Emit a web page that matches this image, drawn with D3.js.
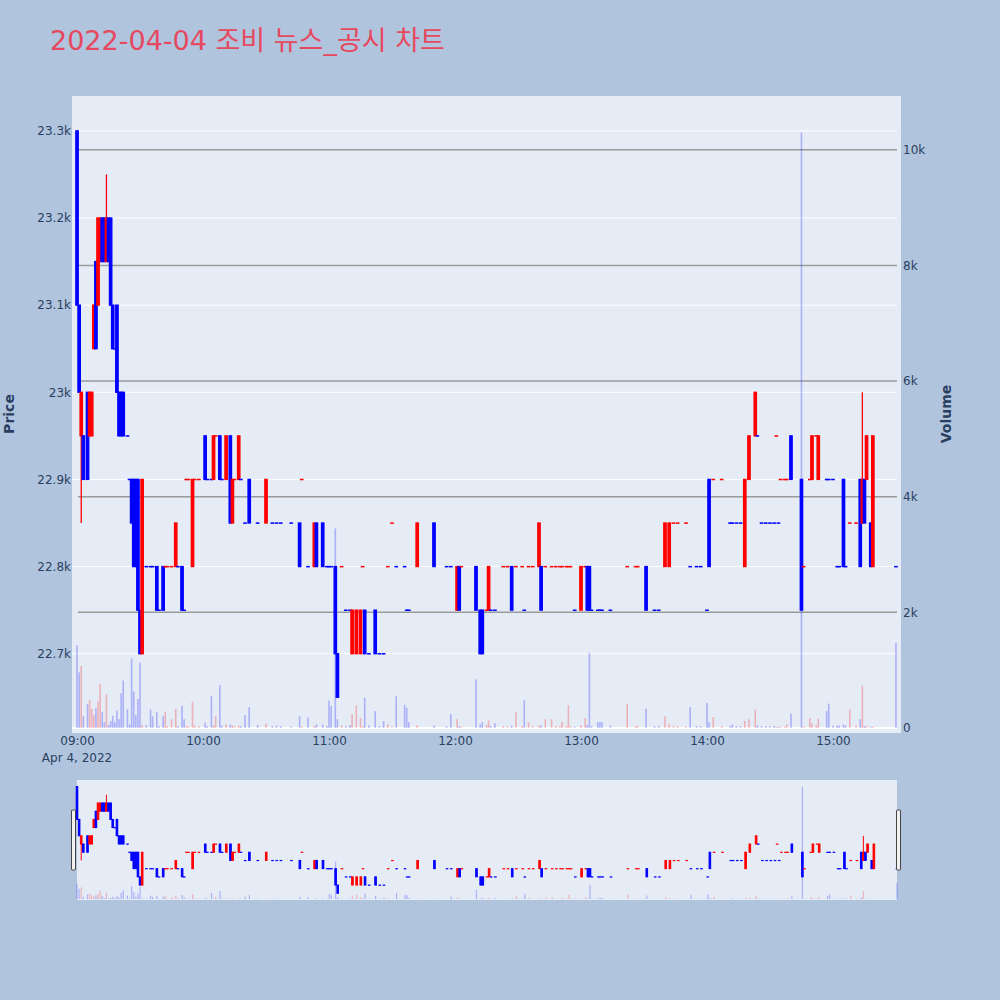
<!DOCTYPE html>
<html>
<head>
<meta charset="utf-8">
<script src="https://cdn.jsdelivr.net/npm/d3@7"></script>
<style>
  body { margin: 0; background: #B0C4DE; }
  text { font-family: "DejaVu Sans", "Noto Sans CJK KR", sans-serif; }
</style>
</head>
<body>
<svg id="chart" width="1000" height="1000"></svg>
<script>
"use strict";

// minutes after 09:00, one entry per 1-minute candle
let minutes = [0,1,2,3,5,6,7,8,9,10,
  11,12,13,14,15,16,17,18,19,20,
  21,22,24,25,26,27,28,29,30,31,
  33,35,36,38,39,41,42,43,45,47,
  48,50,51,52,53,55,56,58,61,62,
  64,65,66,68,69,71,73,74,75,77,
  78,80,82,86,90,93,95,97,102,106,
  107,110,113,114,117,119,120,121,123,124,
  126,128,130,131,133,135,136,137,139,142,
  144,146,148,150,152,156,157,158,162,170,
  176,178,181,182,183,190,192,193,195,196,
  197,199,203,205,207,209,212,213,215,217,
  220,221,223,226,228,230,231,233,234,235,
  237,240,242,243,244,245,248,249,250,254,
  262,266,267,271,275,277,280,282,284,286,
  290,292,295,297,300,301,303,307,311,312,
  314,316,318,320,323,324,326,328,330,332,
  333,334,335,337,338,340,345,346,349,350,
  352,353,357,358,360,362,363,365,366,368,
  371,373,374,375,376,378,379,390];

let opens = [23300,23100,22950,22950,23000,22950,22950,23050,23150,23100,
  23150,23200,23200,23150,23200,23200,23100,23050,23100,23000,
  23000,23000,22950,22900,22900,22900,22900,22900,22750,22700,
  22800,22800,22800,22800,22750,22800,22800,22800,22800,22800,
  22800,22800,22750,22900,22900,22800,22900,22900,22950,22900,
  22900,22900,22950,22950,22900,22900,22950,22850,22900,22900,
  22900,22850,22900,22850,22850,22850,22850,22850,22850,22850,
  22900,22800,22800,22850,22850,22800,22800,22800,22800,22700,
  22800,22750,22750,22700,22700,22700,22800,22750,22700,22750,
  22700,22700,22800,22850,22800,22800,22750,22750,22800,22850,
  22800,22800,22750,22800,22800,22800,22750,22750,22750,22750,
  22750,22750,22800,22800,22800,22800,22800,22750,22800,22800,
  22800,22800,22800,22800,22800,22800,22800,22800,22800,22800,
  22750,22750,22800,22800,22800,22750,22750,22750,22750,22750,
  22800,22800,22800,22800,22750,22750,22800,22800,22850,22850,
  22850,22800,22800,22800,22750,22900,22900,22900,22850,22850,
  22850,22850,22800,22900,22950,22950,22850,22850,22850,22850,
  22950,22850,22900,22900,22900,22950,22900,22800,22900,22900,
  22950,22900,22900,22900,22900,22800,22800,22900,22800,22850,
  22850,22900,22850,22900,22900,22850,22800,22800];

let highs = [23300,23100,23000,22950,23000,23000,23000,23100,23150,23200,
  23200,23200,23200,23250,23200,23200,23100,23050,23100,23000,
  23000,23000,22950,22900,22900,22900,22900,22900,22750,22900,
  22800,22800,22800,22800,22750,22800,22800,22800,22800,22850,
  22800,22800,22750,22900,22900,22900,22900,22900,22950,22900,
  22900,22950,22950,22950,22900,22950,22950,22900,22900,22950,
  22900,22850,22900,22850,22900,22850,22850,22850,22850,22850,
  22900,22800,22850,22850,22850,22800,22800,22800,22800,22700,
  22800,22750,22750,22750,22750,22750,22800,22750,22700,22750,
  22700,22700,22800,22850,22800,22800,22750,22750,22850,22850,
  22800,22800,22800,22800,22800,22800,22750,22750,22750,22800,
  22750,22750,22800,22800,22800,22800,22800,22750,22800,22800,
  22850,22800,22800,22800,22800,22800,22800,22800,22800,22800,
  22750,22800,22800,22800,22800,22750,22750,22750,22750,22750,
  22800,22800,22800,22800,22750,22750,22850,22850,22850,22850,
  22850,22800,22800,22800,22750,22900,22900,22900,22850,22850,
  22850,22850,22900,22950,23000,22950,22850,22850,22850,22850,
  22950,22850,22900,22900,22900,22950,22900,22800,22900,22950,
  22950,22950,22900,22900,22900,22800,22800,22900,22800,22850,
  22850,22900,23000,22900,22950,22850,22950,22800];

let lows = [23100,23000,22850,22900,22900,22950,22950,23050,23050,23100,
  23150,23150,23150,23150,23150,23100,23050,23050,23000,22950,
  22950,22950,22950,22900,22850,22800,22800,22750,22700,22700,
  22800,22800,22800,22750,22750,22750,22800,22800,22800,22800,
  22800,22750,22750,22900,22900,22800,22900,22900,22900,22900,
  22900,22900,22950,22900,22900,22900,22850,22850,22900,22900,
  22900,22850,22850,22850,22850,22850,22850,22850,22850,22800,
  22900,22800,22800,22800,22800,22800,22800,22800,22700,22650,
  22800,22750,22750,22700,22700,22700,22800,22700,22700,22700,
  22700,22700,22800,22850,22800,22800,22750,22750,22800,22800,
  22800,22800,22750,22750,22800,22750,22700,22700,22750,22750,
  22750,22750,22800,22800,22750,22800,22800,22750,22800,22800,
  22800,22750,22800,22800,22800,22800,22800,22800,22800,22800,
  22750,22750,22800,22750,22750,22750,22750,22750,22750,22750,
  22800,22800,22800,22750,22750,22750,22800,22800,22850,22850,
  22850,22800,22800,22800,22750,22800,22900,22900,22850,22850,
  22850,22850,22800,22900,22950,22950,22850,22850,22850,22850,
  22950,22850,22900,22900,22900,22900,22750,22800,22900,22900,
  22950,22900,22900,22900,22900,22800,22800,22800,22800,22850,
  22850,22800,22850,22850,22900,22800,22800,22800];

let closes = [23100,23000,23000,22900,22900,23000,23000,23100,23050,23200,
  23200,23150,23150,23200,23150,23100,23050,23050,23000,22950,
  22950,22950,22950,22900,22850,22800,22800,22750,22700,22900,
  22800,22800,22800,22750,22750,22750,22800,22800,22800,22850,
  22800,22750,22750,22900,22900,22900,22900,22900,22900,22900,
  22900,22950,22950,22900,22900,22950,22850,22900,22900,22950,
  22900,22850,22850,22850,22900,22850,22850,22850,22850,22800,
  22900,22800,22850,22800,22800,22800,22800,22800,22700,22650,
  22800,22750,22750,22750,22750,22750,22800,22700,22700,22700,
  22700,22700,22800,22850,22800,22800,22750,22750,22850,22800,
  22800,22800,22800,22750,22800,22750,22700,22700,22750,22800,
  22750,22750,22800,22800,22750,22800,22800,22750,22800,22800,
  22850,22750,22800,22800,22800,22800,22800,22800,22800,22800,
  22750,22800,22800,22750,22750,22750,22750,22750,22750,22750,
  22800,22800,22800,22750,22750,22750,22850,22850,22850,22850,
  22850,22800,22800,22800,22750,22800,22900,22900,22850,22850,
  22850,22850,22900,22950,23000,22950,22850,22850,22850,22850,
  22950,22850,22900,22900,22900,22900,22750,22800,22900,22950,
  22950,22950,22900,22900,22900,22800,22800,22800,22800,22850,
  22850,22800,22900,22850,22950,22800,22950,22800];

let volumes = [1430,960,1070,200,410,480,330,220,340,460,
  760,270,100,580,50,120,210,100,300,150,
  600,820,320,60,1200,630,220,500,1130,50,
  50,320,200,280,30,200,280,30,150,330,
  30,380,150,30,30,450,40,30,90,30,
  550,40,200,740,40,60,60,40,30,40,
  30,220,360,50,70,30,40,30,20,200,
  20,180,30,60,60,30,470,380,3450,150,
  40,30,50,240,390,170,30,520,40,290,
  30,120,60,20,550,400,350,100,50,40,
  30,240,150,30,20,840,60,100,50,130,
  30,80,30,20,40,270,30,480,100,30,
  40,40,150,150,30,30,110,30,390,30,
  20,50,170,50,1300,30,100,100,100,40,
  420,30,30,330,30,30,200,70,30,30,
  20,360,30,30,430,100,190,30,30,60,
  30,30,120,150,320,40,30,30,30,30,
  20,20,20,20,60,250,10300,20,170,80,
  40,160,290,420,40,40,40,60,40,320,
  40,150,730,30,30,20,20,1470];

let priceTicks = [22700, 22800, 22900, 23000, 23100, 23200, 23300];
let volumeTicks = [0, 2000, 4000, 6000, 8000, 10000];

let titleText = "2022-04-04 조비 뉴스_공시 차트";
let upColor = "#FF0000";
let downColor = "#0000FF";
let textColor = "#2a3f5f";

let svg = d3.select("#chart");
let start = new Date(2022, 3, 4, 9, 0);
let toTime = m => new Date(start.getTime() + m * 60000);

// build candle table; doji direction follows previous close like plotly
let candles = [];
let prevClose = null, prevDir = -1;
minutes.forEach((m, i) => {
  let o = opens[i], c = closes[i], dir;
  if (c > o) dir = 1;
  else if (c < o) dir = -1;
  else if (prevClose !== null && c > prevClose) dir = 1;
  else if (prevClose !== null && c < prevClose) dir = -1;
  else dir = prevDir;
  candles.push({t: toTime(m), o: o, h: highs[i], l: lows[i], c: c, v: volumes[i], dir: dir});
  prevClose = c; prevDir = dir;
});

// Main plot scales
let x = d3.scaleTime().domain([toTime(-2.4), toTime(392.4)]).range([72, 901]);
let yPrice = d3.scaleLinear().domain([22609, 23340]).range([733, 96]);
let yVol = d3.scaleLinear().domain([-88, 10930]).range([733, 96]);

// Range slider scales
let xS = d3.scaleTime().domain([toTime(0), toTime(390)]).range([77, 897]);
let yPriceS = d3.scaleLinear().domain([22609, 23340]).range([900, 780]);
let yVolS = d3.scaleLinear().domain([-88, 10930]).range([900, 780]);

// Title
svg.append("text")
  .attr("x", 50).attr("y", 50)
  .style("font-size", "27px")
  .attr("fill", "#E6485E")
  .text(titleText);

// Plot background
svg.append("rect")
  .attr("x", 72).attr("y", 96).attr("width", 829).attr("height", 637)
  .attr("fill", "#E5ECF6");

// Price grid (white)
svg.append("g").selectAll("line")
  .data(priceTicks).enter().append("line")
  .attr("x1", 72).attr("x2", 897)
  .attr("y1", d => yPrice(d)).attr("y2", d => yPrice(d))
  .attr("stroke", "#ffffff").attr("stroke-width", 1);

// Volume grid (gray) + zero line
svg.append("g").selectAll("line")
  .data(volumeTicks.filter(d => d > 0)).enter().append("line")
  .attr("x1", 78).attr("x2", 897)
  .attr("y1", d => yVol(d)).attr("y2", d => yVol(d))
  .attr("stroke", "#9a9a9a").attr("stroke-width", 1.5);
svg.append("line")
  .attr("x1", 72).attr("x2", 897)
  .attr("y1", yVol(0)).attr("y2", yVol(0))
  .attr("stroke", "#ffffff").attr("stroke-width", 2);

function drawVolume(g, xs, ys, w) {
  g.selectAll("rect")
    .data(candles).enter().append("rect")
    .attr("x", d => xs(d.t) - w / 2)
    .attr("width", w)
    .attr("y", d => ys(d.v))
    .attr("height", d => ys(0) - ys(d.v))
    .attr("fill", d => d.dir > 0 ? "rgba(255,0,0,0.25)" : "rgba(0,0,255,0.25)");
}

function drawCandles(g, xs, ys, bodyW, sw) {
  let c = g.selectAll("g")
    .data(candles).enter().append("g");
  c.append("line")
    .attr("x1", d => xs(d.t)).attr("x2", d => xs(d.t))
    .attr("y1", d => ys(d.h)).attr("y2", d => ys(d.l))
    .attr("stroke", d => d.dir > 0 ? upColor : downColor)
    .attr("stroke-width", sw);
  // zero-height bodies (doji) still need a small dash, like plotly
  c.append("rect")
    .attr("x", d => xs(d.t) - bodyW / 2)
    .attr("width", bodyW)
    .attr("y", d => ys(Math.max(d.o, d.c)))
    .attr("height", d => Math.max(Math.abs(ys(d.o) - ys(d.c)), 0.2))
    .attr("fill", d => d.dir > 0 ? upColor : downColor)
    .attr("stroke", d => d.dir > 0 ? upColor : downColor)
    .attr("stroke-width", sw);
}

drawVolume(svg.append("g"), x, yVol, 1.6);
drawCandles(svg.append("g"), x, yPrice, 2.4, 1.3);

// Left axis (price)
let axL = svg.append("g").attr("transform", "translate(71,0)")
  .call(d3.axisLeft(yPrice).tickValues(priceTicks).tickFormat(d3.format("~s")).tickSize(0).tickPadding(0));
axL.select(".domain").remove();
axL.selectAll("text").attr("fill", textColor).style("font-size", "12px");

// Right axis (volume)
let axR = svg.append("g").attr("transform", "translate(903,0)")
  .call(d3.axisRight(yVol).tickValues(volumeTicks).tickFormat(d3.format("~s")).tickSize(0).tickPadding(0));
axR.select(".domain").remove();
axR.selectAll("text").attr("fill", textColor).style("font-size", "12px");

// Bottom axis (time)
let axB = svg.append("g").attr("transform", "translate(0,733)")
  .call(d3.axisBottom(x).ticks(d3.timeHour.every(1)).tickFormat(d3.timeFormat("%H:%M")).tickSize(0).tickPadding(3));
axB.select(".domain").remove();
axB.selectAll("text").attr("fill", textColor).style("font-size", "12px");

svg.append("text")
  .attr("x", x(start)).attr("y", 762)
  .attr("text-anchor", "middle")
  .attr("fill", textColor).style("font-size", "12px")
  .text(d3.timeFormat("%b %-d, %Y")(start));

// Axis titles
svg.append("text")
  .attr("transform", "translate(14,414) rotate(-90)")
  .attr("text-anchor", "middle")
  .attr("fill", textColor).style("font-size", "14px").style("font-weight", "bold")
  .text("Price");
svg.append("text")
  .attr("transform", "translate(951,414) rotate(-90)")
  .attr("text-anchor", "middle")
  .attr("fill", textColor).style("font-size", "14px").style("font-weight", "bold")
  .text("Volume");

// Range slider
svg.append("rect")
  .attr("x", 77).attr("y", 780).attr("width", 820).attr("height", 120)
  .attr("fill", "#E5ECF6");
drawVolume(svg.append("g"), xS, yVolS, 1.2);
drawCandles(svg.append("g"), xS, yPriceS, 1.6, 1);

svg.append("g").selectAll("rect")
  .data([73, 898]).enter().append("rect")
  .attr("x", d => d - 1.5).attr("y", 810)
  .attr("width", 4).attr("height", 60)
  .attr("rx", 1)
  .attr("fill", "#f2f2f2").attr("stroke", "#444").attr("stroke-width", 1);
</script>
</body>
</html>
